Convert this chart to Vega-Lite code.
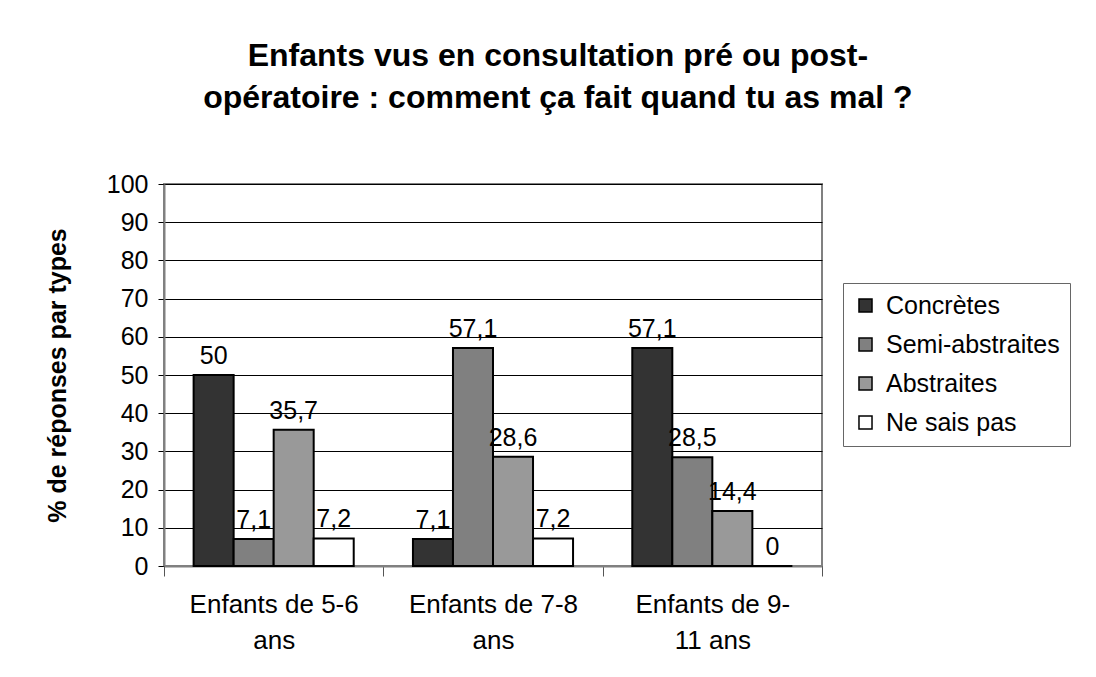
{
  "$schema": "https://vega.github.io/schema/vega-lite/v6.json",
  "width": 658,
  "height": 382,
  "autosize": {"type": "pad"},
  "padding": {"left": 45, "top": 40, "right": 5, "bottom": 5},
  "background": "white",
  "title": {
    "text": ["Enfants vus en consultation pré ou post-", "opératoire : comment ça fait quand tu as mal ?"],
    "font": "Liberation Sans",
    "fontSize": 32,
    "fontWeight": "bold",
    "color": "black",
    "anchor": "middle",
    "frame": "bounds",
    "lineHeight": 42,
    "offset": 57
  },
  "data": {
    "values": [
      {"groupe": "Enfants de 5-6 ans", "type": "Concrètes", "pct": 50},
      {"groupe": "Enfants de 5-6 ans", "type": "Semi-abstraites", "pct": 7.1},
      {"groupe": "Enfants de 5-6 ans", "type": "Abstraites", "pct": 35.7},
      {"groupe": "Enfants de 5-6 ans", "type": "Ne sais pas", "pct": 7.2},
      {"groupe": "Enfants de 7-8 ans", "type": "Concrètes", "pct": 7.1},
      {"groupe": "Enfants de 7-8 ans", "type": "Semi-abstraites", "pct": 57.1},
      {"groupe": "Enfants de 7-8 ans", "type": "Abstraites", "pct": 28.6},
      {"groupe": "Enfants de 7-8 ans", "type": "Ne sais pas", "pct": 7.2},
      {"groupe": "Enfants de 9-11 ans", "type": "Concrètes", "pct": 57.1},
      {"groupe": "Enfants de 9-11 ans", "type": "Semi-abstraites", "pct": 28.5},
      {"groupe": "Enfants de 9-11 ans", "type": "Abstraites", "pct": 14.4},
      {"groupe": "Enfants de 9-11 ans", "type": "Ne sais pas", "pct": 0}
    ]
  },
  "encoding": {
    "x": {
      "field": "groupe",
      "type": "nominal",
      "sort": ["Enfants de 5-6 ans", "Enfants de 7-8 ans", "Enfants de 9-11 ans"],
      "scale": {"paddingInner": 0, "paddingOuter": 0},
      "axis": {
        "title": null,
        "labelAngle": 0,
        "tickBand": "extent",
        "tickSize": 10,
        "tickColor": "#555555",
        "domainColor": "#808080",
        "domainWidth": 2,
        "labelFont": "Liberation Sans",
        "labelFontSize": 26,
        "labelColor": "black",
        "labelPadding": 15,
        "labelLineHeight": 36,
        "labelBaseline": "top",
        "labelExpr": "datum.value == 'Enfants de 9-11 ans' ? ['Enfants de 9-', '11 ans'] : datum.value == 'Enfants de 5-6 ans' ? ['Enfants de 5-6', 'ans'] : datum.value == 'Enfants de 7-8 ans' ? ['Enfants de 7-8', 'ans'] : ''"
      }
    },
    "xOffset": {
      "field": "type",
      "type": "nominal",
      "sort": ["Concrètes", "Semi-abstraites", "Abstraites", "Ne sais pas"],
      "scale": {"paddingInner": 0, "paddingOuter": 0.74}
    },
    "y": {
      "field": "pct",
      "type": "quantitative",
      "scale": {"domain": [0, 100]},
      "axis": {
        "title": "% de réponses par types",
        "titleFont": "Liberation Sans",
        "titleFontSize": 25,
        "titleFontWeight": "bold",
        "titleColor": "black",
        "titlePadding": 36,
        "values": [0, 10, 20, 30, 40, 50, 60, 70, 80, 90, 100],
        "labelFont": "Liberation Sans",
        "labelFontSize": 25,
        "labelColor": "black",
        "labelPadding": 10,
        "tickSize": 6,
        "tickColor": "black",
        "domainColor": "#808080",
        "domainWidth": 2,
        "grid": true,
        "gridColor": "black",
        "gridWidth": 1
      }
    }
  },
  "layer": [
    {
      "mark": {"type": "bar", "stroke": "black", "strokeWidth": 2},
      "encoding": {
        "color": {
          "field": "type",
          "type": "nominal",
          "scale": {
            "domain": ["Concrètes", "Semi-abstraites", "Abstraites", "Ne sais pas"],
            "range": ["#333333", "#808080", "#999999", "#ffffff"]
          },
          "legend": {
            "title": null,
            "orient": "none",
            "legendX": 679,
            "legendY": 99,
            "strokeColor": "#666666",
            "padding": 10,
            "symbolType": "square",
            "symbolSize": 170,
            "symbolStrokeColor": "black",
            "symbolStrokeWidth": 1.5,
            "labelFont": "Liberation Sans",
            "labelFontSize": 25,
            "labelColor": "black",
            "labelLimit": 400,
            "labelOffset": 8,
            "rowPadding": 13
          }
        }
      }
    },
    {
      "mark": {
        "type": "text",
        "baseline": "bottom",
        "dy": -6,
        "font": "Liberation Sans",
        "fontSize": 25,
        "color": "black"
      },
      "encoding": {
        "text": {"field": "pct", "type": "quantitative", "format": ".3~r"}
      }
    }
  ],
  "config": {
    "locale": {
      "number": {"decimal": ",", "thousands": " ", "grouping": [3], "currency": ["", " €"]}
    },
    "view": {"stroke": "#808080", "strokeWidth": 2},
    "axis": {"labelFlush": false}
  }
}
